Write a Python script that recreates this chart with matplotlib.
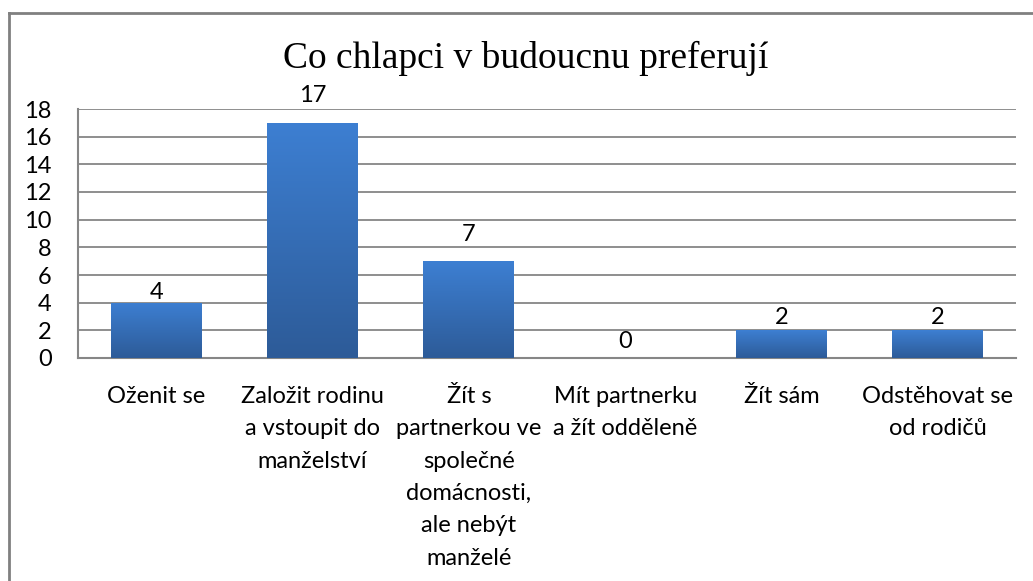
import numpy as np
import matplotlib
matplotlib.use('Agg')
import matplotlib.pyplot as plt
from matplotlib.lines import Line2D

categories = [
    'Oženit se',
    'Založit rodinu\na vstoupit do\nmanželství',
    'Žít s\npartnerkou ve\nspolečné\ndomácnosti,\nale nebýt\nmanželé',
    'Mít partnerku\na žít odděleně',
    'Žít sám',
    'Odstěhovat se\nod rodičů',
]
values = [4, 17, 7, 0, 2, 2]
title = 'Co chlapci v budoucnu preferují'

# label offsets above bar tops (data units), as drawn in the original
label_offsets = [0.77, 2.0, 1.9, 1.16, 0.96, 0.96]

W, H = 1033, 581
fig = plt.figure(figsize=(W / 100, H / 100), dpi=100)
ax = fig.add_axes([78 / W, 1 - 358 / H, (1016 - 78) / W, (358 - 109) / H])

x = np.arange(len(values))
bars = ax.bar(x, values, width=0.58, color='#3a74c0', zorder=3)

# gradient inside each bar
grad = np.linspace(0, 1, 256).reshape(-1, 1)
cmap = matplotlib.colors.LinearSegmentedColormap.from_list('g', ['#2d5b98', '#3d7fd2'])
for b in bars:
    if b.get_height() <= 0:
        continue
    x0, y0 = b.get_x(), b.get_y()
    im = ax.imshow(grad, cmap=cmap, origin='lower', aspect='auto',
                   extent=(x0, x0 + b.get_width(), y0, y0 + b.get_height()), zorder=4)
    im.set_clip_path(b)

for xi, v, off in zip(x, values, label_offsets):
    ax.text(xi, v + off, str(v), ha='center', va='center', fontsize=17,
            family='Lato', color='#000000', zorder=5, clip_on=False)

ax.set_xlim(-0.5, len(values) - 0.5)
ax.set_ylim(0, 18)
ax.set_yticks(range(0, 19, 2))
ax.set_xticks(x)
ax.set_xticklabels(categories, fontsize=17, family='Lato', linespacing=1.67, va='top')
for lab in ax.get_yticklabels():
    lab.set_fontsize(17)
    lab.set_family('Lato')
ax.tick_params(axis='y', length=0, pad=19)
ax.tick_params(axis='x', length=0, pad=20)
ax.grid(axis='y', color='#868686', linewidth=1.3, zorder=0)
for s in ['top', 'right']:
    ax.spines[s].set_visible(False)
for s in ['left', 'bottom']:
    ax.spines[s].set_color('#868686')
    ax.spines[s].set_linewidth(1.5)

fig.text(0.5 * (285 + 767) / W, 1 - 58 / H, title, ha='center', va='center',
         fontsize=27, family='Liberation Serif')

# outer chart border
fig.add_artist(Line2D([9 / W, 9 / W], [0, 1 - 13 / H], color='#808080', lw=2))
fig.add_artist(Line2D([9 / W, 1], [1 - 13 / H, 1 - 13 / H], color='#808080', lw=2))

fig.savefig('out.png', dpi=100)
